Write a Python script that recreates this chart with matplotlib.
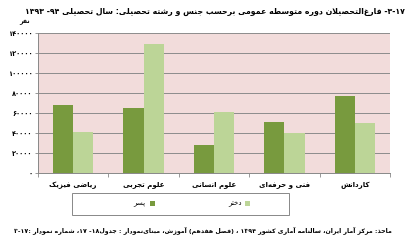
import re
import matplotlib
matplotlib.use("Agg")
import matplotlib.pyplot as plt
from matplotlib.patches import Rectangle

# data (number of graduates)
categories = ["ریاضی فیزیک", "علوم تجربی", "علوم انسانی", "فنی و حرفه‌ای", "کاردانش"]
boys = [68000, 65000, 28000, 51000, 77000]
girls = [41000, 129000, 61000, 40000, 50000]
series_names = ["پسر", "دختر"]
yticks = [0, 20000, 40000, 60000, 80000, 100000, 120000, 140000]

title = "۳-۱۷- فارغ‌التحصیلان دوره متوسطه عمومی برحسب جنس و رشته تحصیلی: سال تحصیلی ۹۴- ۱۳۹۳"
unit = "نفر"
source = "ماخذ: مرکز آمار ایران، سالنامه آماری کشور ۱۳۹۴ ، (فصل هفدهم) آموزش، مبنای‌نمودار : جدول۱۸- ۱۷، شماره نمودار :۳-۱۷"

# --- minimal Persian shaping + right-to-left ordering (matplotlib has no text layout for it)
FORMS = {
    'ا': (0xFE8D, 0xFE8E), 'آ': (0xFE81, 0xFE82), 'د': (0xFEA9, 0xFEAA), 'ذ': (0xFEAB, 0xFEAC),
    'ر': (0xFEAD, 0xFEAE), 'ز': (0xFEAF, 0xFEB0), 'ژ': (0xFB8A, 0xFB8B), 'و': (0xFEED, 0xFEEE),
    'ب': 0xFE8F, 'ت': 0xFE95, 'ث': 0xFE99, 'ج': 0xFE9D, 'ح': 0xFEA1, 'خ': 0xFEA5,
    'س': 0xFEB1, 'ش': 0xFEB5, 'ص': 0xFEB9, 'ض': 0xFEBD, 'ط': 0xFEC1, 'ظ': 0xFEC5,
    'ع': 0xFEC9, 'غ': 0xFECD, 'ف': 0xFED1, 'ق': 0xFED5, 'ل': 0xFEDD, 'م': 0xFEE1,
    'ن': 0xFEE5, 'ه': 0xFEE9, 'پ': 0xFB56, 'چ': 0xFB7A, 'ک': 0xFB8E, 'گ': 0xFB92,
    'ی': 0xFBFC,
}


def dual(c):
    return isinstance(FORMS.get(c), int)


def shape(s):
    out = []
    i = 0
    while i < len(s):
        c = s[i]
        if c == '\u200c':
            i += 1
            continue
        if c not in FORMS:
            out.append(c)
            i += 1
            continue
        joins_prev = i > 0 and dual(s[i - 1])
        nxt = s[i + 1] if i + 1 < len(s) else ''
        if c == 'ل' and nxt in ('ا', 'آ'):
            lig = 0xFEF5 if nxt == 'آ' else 0xFEFB
            out.append(chr(lig + (1 if joins_prev else 0)))
            i += 2
            continue
        f = FORMS[c]
        if isinstance(f, int):
            joins_next = nxt in FORMS
            if joins_prev and joins_next:
                k = 3
            elif joins_prev:
                k = 1
            elif joins_next:
                k = 2
            else:
                k = 0
            out.append(chr(f + k))
        else:
            out.append(chr(f[1] if joins_prev else f[0]))
        i += 1
    return ''.join(out)


MIRROR = str.maketrans("()", ")(")


def fa(s):
    s = shape(s)
    runs = re.findall(r'[0-9۰-۹]+(?:[-/.][0-9۰-۹]+)*|[^0-9۰-۹]+', s)
    out = []
    for r in reversed(runs):
        if r[0].isdigit():
            out.append(r)
        else:
            out.append(r[::-1].translate(MIRROR))
    return ''.join(out)


def fa_num(v):
    return str(v).translate(str.maketrans("0123456789", "۰۱۲۳۴۵۶۷۸۹"))


plt.rcParams['font.family'] = ['DejaVu Sans']

W, H = 407, 241
fig = plt.figure(figsize=(W / 100, H / 100), dpi=100)
ax = fig.add_axes([38 / W, (H - 173) / H, 352 / W, 140 / H])
ax.set_facecolor("#f2dcdb")

x = list(range(len(categories)))
bw = 0.286
dark = "#789a3e"
light = "#bcd597"
b1 = ax.bar([i - bw / 2 for i in x], boys, width=bw, color=dark, zorder=3)
b2 = ax.bar([i + bw / 2 for i in x], girls, width=bw, color=light, zorder=3)

ax.set_xlim(-0.5, len(categories) - 0.5)
ax.set_ylim(0, 140000)
ax.set_yticks(yticks)
ax.set_yticklabels([fa_num(v) for v in yticks], fontsize=4.8, fontweight="bold")
ax.set_xticks(x)
ax.set_xticklabels([fa(c) for c in categories], fontsize=5, fontweight="bold")
ax.set_xticks([i - 0.5 for i in range(len(categories) + 1)], minor=True)
ax.tick_params(axis="x", which="major", length=0, pad=6)
ax.tick_params(axis="x", which="minor", length=3, color="#888888", width=0.6)
ax.tick_params(axis="y", length=2, color="#888888", width=0.6, pad=2)
ax.grid(axis="y", color="#8c8c8c", linewidth=0.7, zorder=0)
for side in ("top", "right"):
    ax.spines[side].set_visible(False)
for side in ("left", "bottom"):
    ax.spines[side].set_color("#888888")
    ax.spines[side].set_linewidth(0.7)

# legend (marker on the right of the label, as in the RTL original)
ax.legend([b1, b2], [fa(n) for n in series_names], ncol=2, markerfirst=False,
          frameon=False, loc="center", bbox_to_anchor=(192 / W, 1 - 204 / H),
          bbox_transform=fig.transFigure, fontsize=5, handlelength=0.7,
          handleheight=0.7, handletextpad=0.6, columnspacing=10.5)
fig.patches.append(Rectangle((72 / W, 1 - 215 / H), 217 / W, 22 / H, transform=fig.transFigure,
                             fill=False, edgecolor="#888888", linewidth=0.7))

fig.text(215 / W, 1 - 12 / H, fa(title), ha="center", va="center", fontsize=5.6, fontweight="bold")
fig.text(30 / W, 1 - 22 / H, fa(unit), ha="right", va="center", fontsize=4.5, fontweight="bold")
fig.text(392 / W, 1 - 230 / H, fa(source), ha="right", va="center", fontsize=4.5, fontweight="bold")

fig.savefig("out.png", dpi=100)
